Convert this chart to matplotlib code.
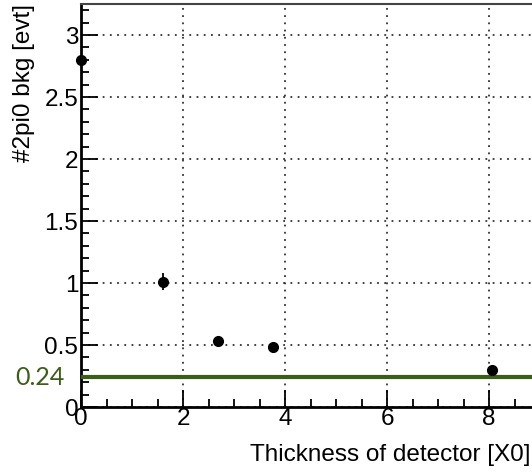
import matplotlib
matplotlib.use("Agg")
import matplotlib.pyplot as plt
from matplotlib.ticker import MultipleLocator

# Background events vs detector thickness
thickness = [0.0, 1.61, 2.69, 3.76, 8.06]
bkg = [2.80, 1.01, 0.53, 0.48, 0.30]
bkg_err = [0.03, 0.07, 0.02, 0.02, 0.02]
reference_level = 0.24

xticks = [0, 2, 4, 6, 8]
yticks = [0, 0.5, 1, 1.5, 2, 2.5, 3]
ytick_labels = ["0", "0.5", "1", "1.5", "2", "2.5", "3"]

plt.rcParams["font.family"] = ["Liberation Sans", "DejaVu Sans"]

W, H = 532, 472
fig = plt.figure(figsize=(W / 100, H / 100), dpi=100)
left, bottom = 81 / W, (H - 407) / H
ax = fig.add_axes([left, bottom, 459 / W, 403 / H])

ax.set_xlim(0, 9)
ax.set_ylim(0, 3.25)

ax.grid(True, which="major", color="#333333", linestyle=(0, (1, 3)), linewidth=1.3)
ax.set_axisbelow(True)

ax.axhline(reference_level, color="#3b5e1b", linewidth=3, zorder=3)

ax.errorbar(thickness, bkg, yerr=bkg_err, fmt="o", color="black",
            markersize=7, elinewidth=1.3, capsize=0, zorder=4, clip_on=False)

ax.xaxis.set_major_locator(MultipleLocator(2))
ax.xaxis.set_minor_locator(MultipleLocator(0.5))
ax.yaxis.set_major_locator(MultipleLocator(0.5))
ax.yaxis.set_minor_locator(MultipleLocator(0.1))
ax.set_xticks(xticks)
ax.set_yticks(yticks)
ax.set_yticklabels(ytick_labels)

ax.tick_params(which="both", direction="in", top=False, right=False,
               width=1.3, labelsize=17.5, colors="black")
ax.tick_params(which="major", length=12, pad=2)
ax.tick_params(which="minor", length=6)
ax.tick_params(axis="x", pad=1)

for side in ("left", "bottom"):
    ax.spines[side].set_linewidth(2)
ax.spines["top"].set_linewidth(1.5)
ax.spines["top"].set_color("#444444")
ax.spines["right"].set_visible(False)

fig.text(0.045, (H - 4) / H, "#2pi0 bkg [evt]", rotation=90,
         ha="center", va="top", fontsize=17.5)
fig.text(530 / W, (H - 455) / H, "Thickness of detector [X0]",
         ha="right", va="center", fontsize=17.5)

ax.text(-0.035, reference_level, "0.24", transform=ax.get_yaxis_transform(),
        ha="right", va="center", fontsize=18, color="#3b5e1b",
        family=["Lato", "DejaVu Sans"])

fig.savefig("out.png", dpi=100)
